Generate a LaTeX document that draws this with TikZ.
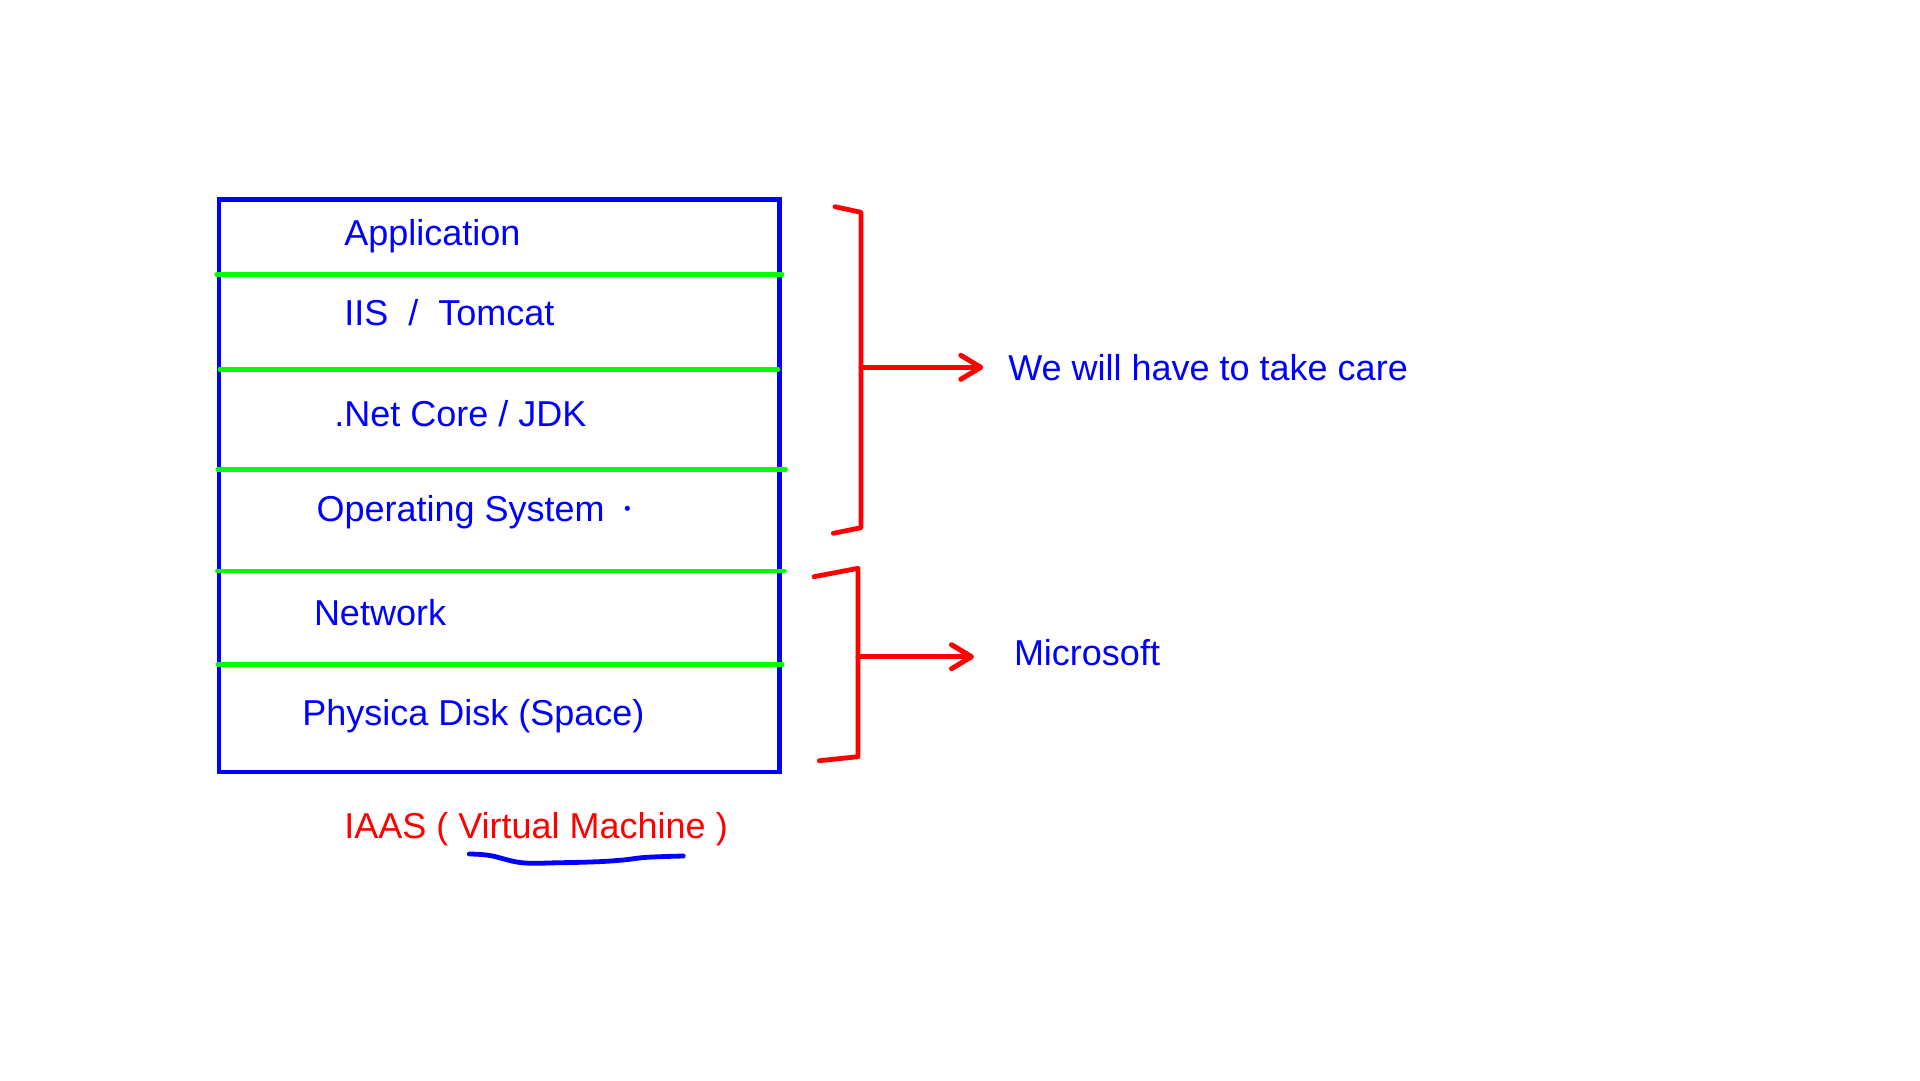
\documentclass[tikz,border=0pt]{standalone}
\usepackage{fontspec}
\setmainfont{Liberation Sans}
\usetikzlibrary{arrows.meta}
\definecolor{pblue}{RGB}{0,0,255}
\definecolor{pgreen}{RGB}{0,255,0}
\definecolor{pred}{RGB}{255,0,0}
\begin{document}
\begin{tikzpicture}[x=1pt,y=-1pt,
  lbl/.style={anchor=base west,inner sep=0pt,outer sep=0pt,text=pblue,font=\fontsize{36}{40}\selectfont},
  redlbl/.style={lbl,text=pred},
  boxline/.style={draw=pblue,line width=4.8pt},
  sepline/.style={draw=pgreen,line width=4.5pt,line cap=round},
  bracketline/.style={draw=pred,line width=4.8pt,line cap=round,line join=round},
  redarrow/.style={draw=pred,line width=4.8pt,line cap=round,-{Straight Barb[length=20pt,width=24pt,line width=5pt,round]}},
  underl/.style={draw=pblue,line width=4.8pt,line cap=round,line join=round}]
\fill[white] (0,0) rectangle (1920,1080);
\useasboundingbox (0,0) rectangle (1920,1080);
% stack box
\draw[boxline] (219,199.3) rectangle (779.3,772);
\draw[sepline] (216.6,274.3) -- (782,274.3);
\draw[sepline] (219.8,369.3) -- (778,369.3);
\draw[sepline] (217.8,469.3) -- (785.7,469.3);
\draw[sepline] (217.3,571) -- (784.5,571);
\draw[sepline] (218,664.3) -- (782.3,664.3);
% layer labels
\node[lbl] (app) at (344.3,245.7) {Application};
\node[lbl] (iis) at (344.3,325.7) {IIS\ \ /\ \ Tomcat};
\node[lbl] (net) at (334.4,426.7) {.Net Core / JDK};
\node[lbl] (os) at (316.6,521.7) {Operating System};
\fill[pblue] (627.3,508.3) circle (2.6pt);
\node[lbl] (nw) at (314,625) {Network};
\node[lbl] (disk) at (302.3,725.7) {Physica Disk (Space)};
% caption
\node[redlbl] (iaas) at (344.3,838.3) {IAAS ( Virtual Machine )};
\draw[underl] plot[smooth,tension=0.6] coordinates {(469.3,854) (490,855.5) (521.7,862.7) (560,862.7) (598,861.7) (623,860) (646.7,857.3) (683.3,856)};
% brackets
\draw[bracketline] (835,206.7) -- (861,212.3) -- (861,527.7) -- (833.3,533.3);
\draw[bracketline] (814,576.7) -- (858,568.3) -- (858,756.7) -- (819.3,760.7);
\coordinate (b1mid) at (861,367.3);
\coordinate (tip1) at (983.3,367.3);
\coordinate (b2mid) at (858,656.7);
\coordinate (tip2) at (974,656.7);
% right labels
\node[lbl] (care) at (1008.3,380) {We will have to take care};
\node[lbl] (ms) at (1014,665) {Microsoft};
\draw[redarrow] (b1mid) -- (tip1);
\draw[redarrow] (b2mid) -- (tip2);
\end{tikzpicture}
\end{document}
